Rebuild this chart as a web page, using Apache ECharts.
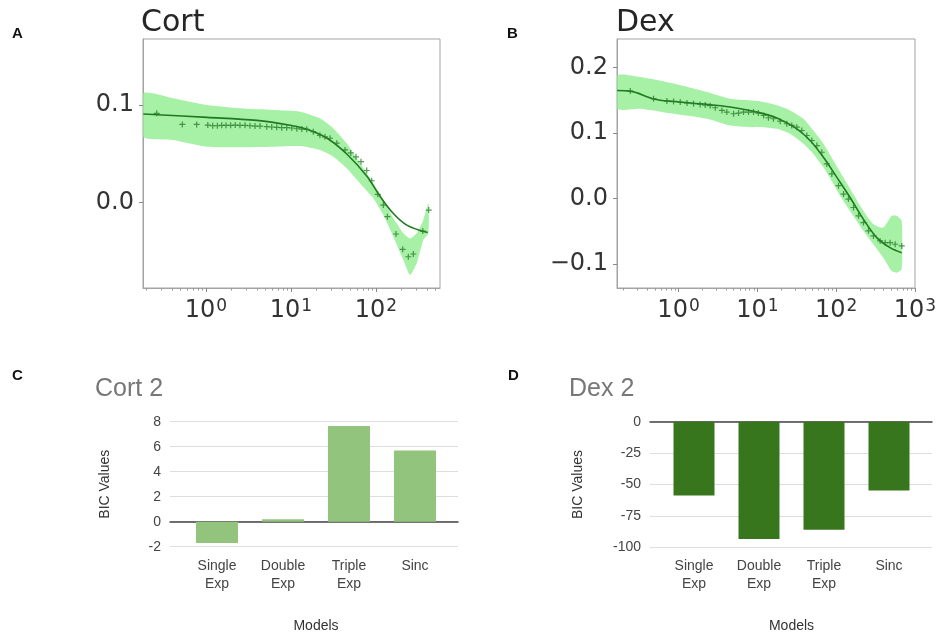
<!DOCTYPE html>
<html><head><meta charset="utf-8">
<script src="https://cdn.jsdelivr.net/npm/echarts@6/dist/echarts.min.js"></script>
<style>html,body{margin:0;padding:0;background:#fff}#c{width:942px;height:636px}</style>
</head><body><div id="c"></div><script>
// ---- Panel A: Cort ----
const cortX = [0.263, 0.526, 0.777, 1.05, 1.20, 1.36, 1.53, 1.72, 1.95, 2.21, 2.51, 2.88, 3.29, 3.77, 4.32, 5.18, 5.93, 6.79, 7.78, 8.90, 10.2, 11.7, 13.4, 15.3, 18.3, 21.9, 25.1, 28.8, 34.5, 43.2, 50.4, 58.2, 66.6, 77.8, 89, 105, 122, 136, 172, 206, 240, 275, 355, 417];
const cortY = [0.0915, 0.0802, 0.0802, 0.0795, 0.0788, 0.0788, 0.0792, 0.0792, 0.0792, 0.0795, 0.0792, 0.0792, 0.0788, 0.0785, 0.0785, 0.0778, 0.0775, 0.0772, 0.0768, 0.0768, 0.0765, 0.0757, 0.0754, 0.0751, 0.0727, 0.0690, 0.0675, 0.0660, 0.0610, 0.0540, 0.0510, 0.0470, 0.0420, 0.0330, 0.0225, 0.0086, -0.0024, -0.0143, -0.0320, -0.0477, -0.0553, -0.0525, -0.0290, -0.0075];
const cortFitX = [0.183, 1.03, 3.97, 9.8, 15.4, 26.6, 45.6, 78.2, 111, 158, 230, 406];
const cortFitY = [0.0908, 0.0874, 0.0843, 0.0793, 0.0752, 0.0660, 0.0496, 0.0271, 0.0068, -0.0106, -0.0229, -0.0305];
const cortBandX = [0.183, 0.412, 1.02, 2.51, 6.19, 12.8, 21.9, 31.5, 45.2, 64.8, 93, 122, 160, 210, 251, 301, 360, 413];
const cortBandLow = [0.0676, 0.0642, 0.0573, 0.0567, 0.0573, 0.0580, 0.0539, 0.0471, 0.0352, 0.0199, 0.0045, -0.0126, -0.0348, -0.0587, -0.0740, -0.0620, -0.0382, -0.0313];
const cortBandHigh = [0.112, 0.107, 0.100, 0.0966, 0.0949, 0.0932, 0.0864, 0.0761, 0.0608, 0.0403, 0.0199, 0.0028, -0.0160, -0.0313, -0.0365, -0.0313, -0.0177, -0.0006];
const cortXTicks = [1, 10, 100];
const cortYTicks = [0, 0.1];

// ---- Panel B: Dex ----
const dexX = [0.244, 0.482, 0.711, 0.865, 1.05, 1.28, 1.55, 1.88, 2.18, 2.52, 2.92, 3.55, 4.10, 4.99, 5.77, 6.67, 7.72, 8.93, 10.3, 12.0, 13.8, 16.0, 19.5, 23.6, 27.3, 31.6, 36.6, 42.4, 49.1, 56.8, 65.7, 76.0, 88.0, 107, 124, 143, 166, 192, 222, 257, 297, 361, 418, 483, 560, 679];
const dexY = [0.1641, 0.1524, 0.1488, 0.1483, 0.1472, 0.1457, 0.1448, 0.1437, 0.1427, 0.1417, 0.1386, 0.1345, 0.1319, 0.1294, 0.1304, 0.1319, 0.1319, 0.1319, 0.1304, 0.1268, 0.1233, 0.1218, 0.1181, 0.1141, 0.1115, 0.1089, 0.1038, 0.0962, 0.0885, 0.0808, 0.0706, 0.0528, 0.0374, 0.0195, 0.0067, -0.0009, -0.0138, -0.0265, -0.0368, -0.0495, -0.0572, -0.0649, -0.0675, -0.0675, -0.0700, -0.0725];
const dexFitX = [0.166, 0.244, 0.482, 0.865, 2.29, 4.52, 9.86, 17.7, 31.7, 46.7, 68.9, 102, 150, 221, 327, 482, 678];
const dexFitY = [0.165, 0.164, 0.152, 0.148, 0.1437, 0.1396, 0.132, 0.123, 0.1064, 0.0885, 0.0629, 0.0322, 0.0015, -0.0316, -0.0598, -0.0751, -0.0828];
const dexBandX = [0.166, 0.327, 0.865, 2.29, 4.52, 8.11, 12.0, 17.7, 26.0, 38.4, 51.4, 68.9, 92.1, 123, 165, 221, 296, 396, 506, 585, 678];
const dexBandLow = [0.137, 0.1371, 0.1294, 0.1218, 0.1115, 0.1089, 0.1089, 0.1064, 0.0988, 0.0834, 0.0681, 0.0475, 0.0221, -0.0035, -0.0265, -0.0495, -0.0700, -0.0905, -0.1109, -0.1135, -0.1083];
const dexBandHigh = [0.188, 0.1856, 0.1755, 0.1626, 0.1524, 0.1499, 0.1472, 0.1422, 0.1345, 0.1218, 0.1038, 0.0834, 0.0578, 0.0322, 0.0067, -0.0189, -0.0393, -0.0445, -0.0265, -0.0265, -0.0342];
const dexXTicks = [1, 10, 100, 1000];
const dexYTicks = [-0.1, 0, 0.1, 0.2];

// ---- Panels C, D: BIC bars ----
const models = ['Single\nExp', 'Double\nExp', 'Triple\nExp', 'Sinc'];
const cortBic = [-1.7, 0.2, 7.65, 5.7];
const dexBic = [-58.7, -93.3, -86.0, -54.8];

const minorA = [0.2,0.3,0.4,0.5,0.6,0.7,0.8,0.9,2,3,4,5,6,7,8,9,20,30,40,50,60,70,80,90,200,300,400,500];
const minorB = minorA.concat([600,700,800,900]);

const zip = (xs, ys) => xs.map((x, i) => [x, ys[i]]);
const xFmt = v => '{b|10}{s|' + Math.round(Math.log10(v)) + '}';
const yFmt = v => Math.abs(v) < 1e-9 ? '0.0' : (v < 0 ? '\u2212' : '') + Math.abs(v).toFixed(1);
const PLUS = 'path://M4 0H6V4H10V6H6V10H4V6H0V4H4Z';
const FRAME = '#a3a3a3';
const MPL = 'DejaVu Sans';
const GS = 'Liberation Sans';
const BAND = 'rgba(144,238,144,0.8)';

function logX(grid, min, max, ticks, minor) {
  return [
    {gridIndex: grid, type: 'log', min: min, max: max, position: 'bottom',
     axisLine: {show: true, onZero: false, lineStyle: {color: FRAME}},
     axisTick: {show: true, customValues: ticks, length: 4, lineStyle: {color: '#888'}},
     axisLabel: {customValues: ticks, formatter: xFmt, color: '#333', fontFamily: MPL, margin: 5,
       rich: {b: {fontSize: 24, fontFamily: MPL, color: '#333', verticalAlign: 'bottom', lineHeight: 30},
              s: {fontSize: 17, fontFamily: MPL, color: '#333', verticalAlign: 'top', lineHeight: 30, padding: [5, 0, 0, 1]}}},
     splitLine: {show: false}, minorTick: {show: false}},
    {gridIndex: grid, type: 'log', min: min, max: max, position: 'bottom',
     axisLine: {show: false, onZero: false},
     axisTick: {show: true, customValues: minor, length: 2.5, lineStyle: {color: '#999'}},
     axisLabel: {show: false}, splitLine: {show: false}}
  ];
}
function valY(grid, min, max, ticks) {
  return {gridIndex: grid, type: 'value', min: min, max: max,
    axisLine: {show: true, onZero: false, lineStyle: {color: FRAME}},
    axisTick: {show: true, customValues: ticks, length: 4, lineStyle: {color: '#888'}},
    axisLabel: {customValues: ticks, formatter: yFmt, fontSize: 24, color: '#333', fontFamily: MPL, margin: 9},
    splitLine: {show: false}};
}
function bandSeries(xs, lo, hi, xi, yi) {
  return {type: 'custom', xAxisIndex: xi, yAxisIndex: yi, data: xs.map((x, i) => [x, lo[i], hi[i]]),
    clip: true, silent: true, z: 1,
    renderItem: function (params, api) {
      if (params.dataIndex !== 0) return;
      const top = xs.map((x, i) => api.coord([x, hi[i]]));
      const bot = xs.map((x, i) => api.coord([x, lo[i]])).reverse();
      return {type: 'group', children: [
        {type: 'polygon', shape: {points: top.concat(bot), smooth: 0.2}, style: {fill: BAND}}
      ]};
    }};
}
const fitStyle = {color: '#1f7a1f', width: 1.6};
const ptStyle = {color: '#2a7d2a'};

function bgY(grid, min, max, interval, gap) {
  return {gridIndex: grid, type: 'value', min: min, max: max, interval: interval,
    axisLine: {show: false}, axisTick: {show: false},
    axisLabel: {fontSize: 14, color: '#444', fontFamily: GS, margin: 9},
    splitLine: {show: true, lineStyle: {color: '#dedede', width: 1}},
    name: 'BIC Values', nameLocation: 'middle', nameGap: gap,
    nameTextStyle: {fontSize: 14, color: '#333', fontFamily: GS}};
}
function bgX(grid) {
  return {gridIndex: grid, type: 'value', min: 0, max: 1,
    axisLine: {show: true, onZero: true, lineStyle: {color: '#444', width: 1.5}},
    axisTick: {show: false}, axisLabel: {show: false}, splitLine: {show: false}};
}
function catX(grid) {
  return {gridIndex: grid, type: 'category', data: models,
    axisLine: {show: false, onZero: false}, axisTick: {show: false},
    axisLabel: {interval: 0, fontSize: 14, color: '#444', fontFamily: GS, lineHeight: 18, margin: 10},
    name: 'Models', nameLocation: 'middle', nameGap: 72,
    nameTextStyle: {fontSize: 14, color: '#333', fontFamily: GS}};
}
const letter = (t, l, tp) => ({text: t, left: l, top: tp, padding: 0,
  textStyle: {fontSize: 15, fontWeight: 'bold', color: '#111', fontFamily: GS}});

const option = {
  animation: false,
  backgroundColor: '#fff',
  title: [
    letter('A', 12, 26), letter('B', 507, 26), letter('C', 12, 368), letter('D', 508, 368),
    {text: 'Cort', left: 141, top: 8, padding: 0, textStyle: {fontSize: 30, fontWeight: 'normal', color: '#262626', fontFamily: MPL}},
    {text: 'Dex', left: 616, top: 8, padding: 0, textStyle: {fontSize: 30, fontWeight: 'normal', color: '#262626', fontFamily: MPL}},
    {text: 'Cort 2', left: 95, top: 377, padding: 0, textStyle: {fontSize: 25, fontWeight: 'normal', color: '#777', fontFamily: GS}},
    {text: 'Dex 2', left: 569, top: 377, padding: 0, textStyle: {fontSize: 25, fontWeight: 'normal', color: '#777', fontFamily: GS}}
  ],
  grid: [
    {left: 143, top: 39, width: 297, height: 249, show: true, borderColor: FRAME, borderWidth: 1, outerBoundsMode: 'none'},
    {left: 617, top: 39, width: 298, height: 249, show: true, borderColor: FRAME, borderWidth: 1, outerBoundsMode: 'none'},
    {left: 170, top: 421.7, width: 288, height: 125, outerBoundsMode: 'none'},
    {left: 184, top: 421.7, width: 264, height: 125, outerBoundsMode: 'none'},
    {left: 650, top: 421.7, width: 282, height: 125.6, outerBoundsMode: 'none'},
    {left: 661.5, top: 421.7, width: 260, height: 125.6, outerBoundsMode: 'none'}
  ],
  xAxis: [].concat(
    logX(0, 0.1815, 566, cortXTicks, minorA),
    logX(1, 0.1656, 1000, dexXTicks, minorB),
    [bgX(2), catX(3), bgX(4), catX(5)]
  ),
  yAxis: [
    valY(0, -0.0873, 0.1676, cortYTicks),
    valY(1, -0.1368, 0.2436, dexYTicks),
    bgY(2, -2, 8, 2, 58),
    {gridIndex: 3, type: 'value', min: -2, max: 8, show: false},
    bgY(4, -100, 0, 25, 65),
    {gridIndex: 5, type: 'value', min: -100, max: 0, show: false}
  ],
  series: [
    bandSeries(cortBandX, cortBandLow, cortBandHigh, 0, 0),
    {type: 'line', xAxisIndex: 0, yAxisIndex: 0, data: zip(cortFitX, cortFitY), symbol: 'none', smooth: 0.35, lineStyle: fitStyle, z: 3},
    {type: 'scatter', xAxisIndex: 0, yAxisIndex: 0, data: zip(cortX, cortY), symbol: PLUS, symbolSize: 6, itemStyle: ptStyle, z: 4},
    bandSeries(dexBandX, dexBandLow, dexBandHigh, 2, 1),
    {type: 'line', xAxisIndex: 2, yAxisIndex: 1, data: zip(dexFitX, dexFitY), symbol: 'none', smooth: 0.35, lineStyle: fitStyle, z: 3},
    {type: 'scatter', xAxisIndex: 2, yAxisIndex: 1, data: zip(dexX, dexY), symbol: PLUS, symbolSize: 6, itemStyle: ptStyle, z: 4},
    {type: 'bar', xAxisIndex: 5, yAxisIndex: 3, data: cortBic, barWidth: 42, itemStyle: {color: '#93c47d'}},
    {type: 'bar', xAxisIndex: 7, yAxisIndex: 5, data: dexBic, barWidth: 41, itemStyle: {color: '#38761d'}}
  ]
};
const chart = echarts.init(document.getElementById('c'), null, {renderer: 'canvas'});
chart.setOption(option);
</script></body></html>
